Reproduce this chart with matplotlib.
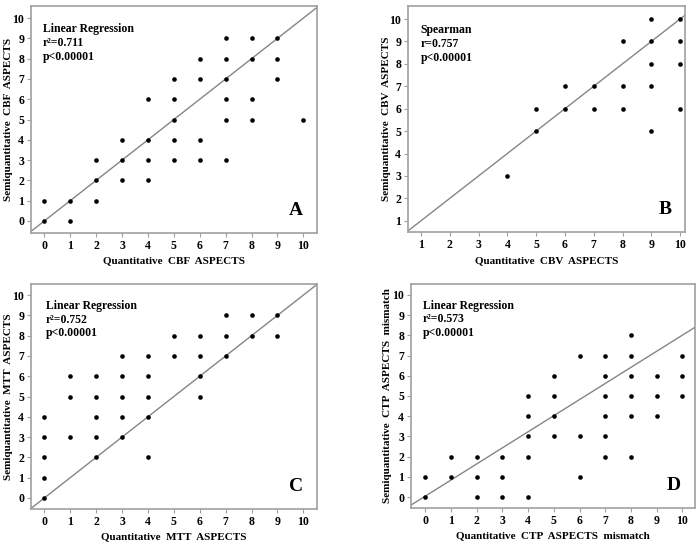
import matplotlib
matplotlib.use("Agg")
import matplotlib.pyplot as plt

plt.rcParams['font.family'] = ['Liberation Serif', 'DejaVu Serif']
plt.rcParams['font.weight'] = 'bold'

# Panel A: CBF
cbf_x = [0, 0, 1, 1, 2, 2, 2, 3, 3, 3, 4, 4, 4, 4, 5, 5, 5, 5, 5, 6, 6, 6, 6,
         7, 7, 7, 7, 7, 7, 8, 8, 8, 8, 9, 9, 9, 10]
cbf_y = [0, 1, 0, 1, 1, 2, 3, 2, 3, 4, 2, 3, 4, 6, 3, 4, 5, 6, 7, 3, 4, 7, 8,
         3, 5, 6, 7, 8, 9, 5, 6, 8, 9, 7, 8, 9, 5]
# Panel B: CBV
cbv_x = [4, 5, 5, 6, 6, 7, 7, 8, 8, 8, 9, 9, 9, 9, 9, 10, 10, 10, 10]
cbv_y = [3, 5, 6, 6, 7, 6, 7, 6, 7, 9, 5, 7, 8, 9, 10, 6, 8, 9, 10]
# Panel C: MTT
mtt_x = [0, 0, 0, 0, 0, 1, 1, 1, 2, 2, 2, 2, 2, 3, 3, 3, 3, 3, 4, 4, 4, 4, 4,
         5, 5, 6, 6, 6, 6, 7, 7, 7, 8, 8, 9, 9]
mtt_y = [0, 1, 2, 3, 4, 3, 5, 6, 2, 3, 4, 5, 6, 3, 4, 5, 6, 7, 2, 4, 5, 6, 7,
         7, 8, 5, 6, 7, 8, 7, 8, 9, 8, 9, 8, 9]
# Panel D: CTP mismatch
ctp_x = [0, 0, 1, 1, 2, 2, 2, 3, 3, 3, 4, 4, 4, 4, 4, 5, 5, 5, 5, 6, 6, 6,
         7, 7, 7, 7, 7, 7, 8, 8, 8, 8, 8, 8, 9, 9, 9, 10, 10, 10]
ctp_y = [0, 1, 1, 2, 0, 1, 2, 0, 1, 2, 0, 2, 3, 4, 5, 3, 4, 5, 6, 1, 3, 7,
         2, 3, 4, 5, 6, 7, 2, 4, 5, 6, 7, 8, 4, 5, 6, 5, 6, 7]

xlabels = ["Quantitative  CBF  ASPECTS", "Quantitative  CBV  ASPECTS",
           "Quantitative  MTT  ASPECTS", "Quantitative  CTP  ASPECTS  mismatch"]
ylabels = ["Semiquantitative  CBF  ASPECTS", "Semiquantitative  CBV  ASPECTS",
           "Semiquantitative  MTT  ASPECTS", "Semiquantitative  CTP  ASPECTS  mismatch"]
stats = ["Linear Regression\nr\u00b2=0.711\np<0.00001",
         "Spearman\nr=0.757\np<0.00001",
         "Linear Regression\nr\u00b2=0.752\np<0.00001",
         "Linear Regression\nr\u00b2=0.573\np<0.00001"]
letters = ["A", "B", "C", "D"]
fit_slope = [1.0, 1.0, 1.0, 0.796]
fit_intercept = [0.0, 0.0, 0.0, 0.05]
x_ticks = [list(range(0, 11)), list(range(1, 11)), list(range(0, 11)), list(range(0, 11))]
y_ticks = [list(range(0, 11)), list(range(1, 11)), list(range(0, 11)), list(range(0, 11))]

xs = [cbf_x, cbv_x, mtt_x, ctp_x]
ys = [cbf_y, cbv_y, mtt_y, ctp_y]

rects = [[31/700, 1-233/548, 286/700, 227/548],
         [408/700, 1-232/548, 277/700, 226/548],
         [31/700, 1-509/548, 286/700, 225/548],
         [411/700, 1-508/548, 284/700, 224/548]]
xlims = [(-0.52, 10.53), (0.55, 10.17), (-0.52, 10.53), (-0.56, 10.49)]
ylims = [(-0.6, 10.6), (0.5, 10.58), (-0.55, 10.55), (-0.54, 10.54)]
stat_pos = [(0.041, 0.925), (0.046, 0.92), (0.052, 0.93), (0.041, 0.93)]
ylab_x = [-0.077, -0.076, -0.077, -0.081]
xlab_y = [-0.123, -0.128, -0.124, -0.124]

fig = plt.figure(figsize=(7, 5.48), dpi=100)
gray = '#a0a0a0'
for i in range(4):
    ax = fig.add_axes(rects[i])
    ax.set_xlim(*xlims[i])
    ax.set_ylim(*ylims[i])
    ax.axline((0, fit_intercept[i]), slope=fit_slope[i], color='#858585', lw=1.0, zorder=1)
    ax.scatter(xs[i], ys[i], s=11, color='black', zorder=3, linewidths=0)
    ax.set_xticks(x_ticks[i])
    ax.set_yticks(y_ticks[i])
    ax.tick_params(direction='out', length=3, width=0.8, color=gray, labelsize=8.5, pad=2)
    for lab in ax.get_xticklabels() + ax.get_yticklabels():
        lab.set_fontweight('bold')
    for sp in ax.spines.values():
        sp.set_color(gray)
        sp.set_linewidth(1.2)
    ax.set_xlabel(xlabels[i], fontsize=8, fontweight='bold')
    ax.set_ylabel(ylabels[i], fontsize=8, fontweight='bold')
    ax.xaxis.set_label_coords(0.5, xlab_y[i])
    ax.yaxis.set_label_coords(ylab_x[i], 0.5)
    ax.xaxis.label.set_va('center')
    ax.yaxis.label.set_va('center')
    ax.text(stat_pos[i][0], stat_pos[i][1], stats[i], transform=ax.transAxes,
            fontsize=8.5, fontweight='bold', va='top', ha='left', linespacing=1.2)
    ax.text(0.951, 0.062, letters[i], transform=ax.transAxes, fontsize=14,
            fontweight='bold', ha='right', va='bottom')

fig.savefig("out.png", dpi=100)
